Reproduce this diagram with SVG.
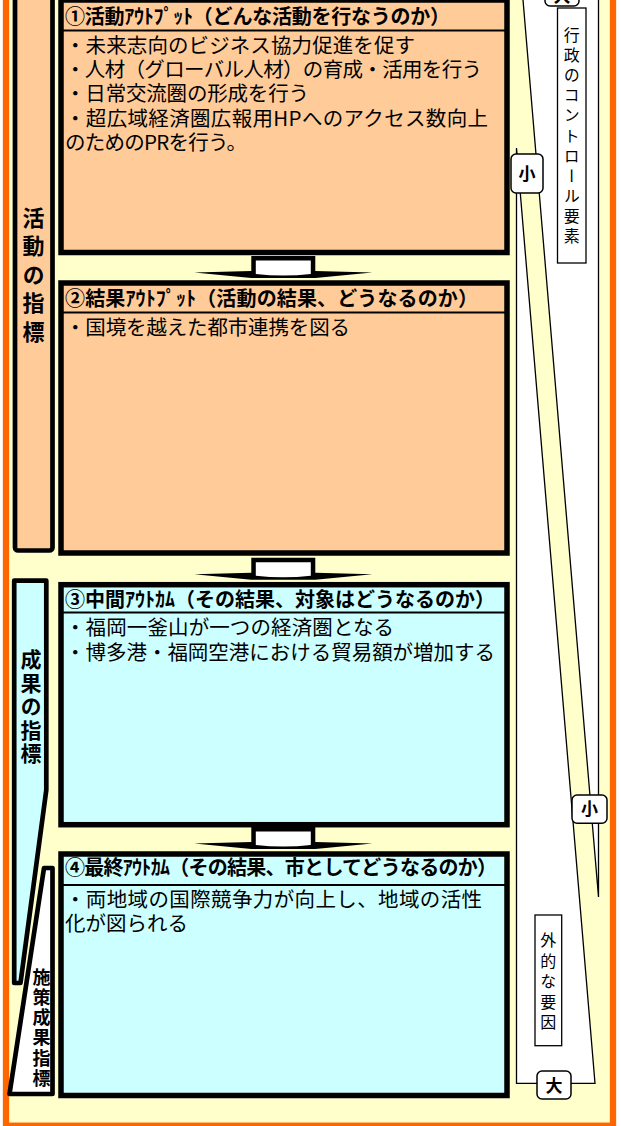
<svg xmlns="http://www.w3.org/2000/svg" width="621" height="1126" viewBox="0 0 621 1126">
<style>
.title{font-family:"Noto Sans CJK JP",sans-serif;font-weight:bold;font-size:20px;fill:#000}
.body{font-family:"Noto Sans CJK JP",sans-serif;font-size:20.5px;fill:#000}
.vbold{font-family:"Noto Sans CJK JP",sans-serif;font-weight:bold;writing-mode:vertical-rl;fill:#000}
.vthin{font-family:"Noto Sans CJK JP",sans-serif;writing-mode:vertical-rl;font-size:16px;fill:#000}
.box{stroke:#000;stroke-width:5.5}
.peach{fill:#FFCC99}
.cyan{fill:#CCFFFF}
.sep{stroke:#000;stroke-width:2}
.thin{fill:#fff;stroke:#000;stroke-width:1.3}
.tag{fill:#fff;stroke:#000;stroke-width:1.5}
.tagtext{font-family:"Noto Sans CJK JP",sans-serif;font-weight:bold;font-size:17px;text-anchor:middle;fill:#000}
.lbl{stroke:#000;stroke-width:4.7;stroke-linejoin:round}
</style>
<defs>
<g id="arrow">
<path d="M-89,-10.5 L-32,-12 L-32,-27 L32,-27 L32,-12 L89,-10.5 L32,-5 L-32,-5 Z" fill="#000"/>
<path d="M-27.5,-22.5 L27.5,-22.5 L27.5,-9 Q0,-6 -27.5,-9 Z" fill="#fff"/>
</g>
</defs>
<rect x="0" y="0" width="621" height="1126" fill="#fff"/>
<rect id="frame" x="6" y="-20" width="607" height="1145.7" fill="#FFFFCC" stroke="#FF6600" stroke-width="6.3"/>

<g id="node-control">
<path d="M522,-12 L598.5,-12 L598.5,897 Z" class="thin"/>
<rect x="557.5" y="8" width="28.5" height="255" class="thin"/>
<text class="vthin" x="571.7" y="27" letter-spacing="4.1">行政のコントロール要素</text>
</g>
<g id="node-external">
<path d="M516.5,148 L595,1083.3 L516.5,1083.3 Z" class="thin"/>
<rect x="535" y="915" width="26.7" height="130.7" class="thin"/>
<text class="vthin" x="548.3" y="932" letter-spacing="4.6">外的な要因</text>
</g>
<g id="node-tag-top-large">
<rect x="545" y="-25" width="34" height="31" rx="5" class="tag"/>
<text class="tagtext" x="562" y="2">大</text>
</g>
<g id="node-tag-top-small">
<rect x="511" y="154" width="32" height="39" rx="5" class="tag"/>
<text class="tagtext" x="527" y="180">小</text>
</g>
<g id="node-tag-bottom-small">
<rect x="572" y="795" width="35" height="28.3" rx="5" class="tag"/>
<text class="tagtext" x="589.5" y="814.5">小</text>
</g>
<g id="node-tag-bottom-large">
<rect x="537" y="1071" width="34" height="28" rx="5" class="tag"/>
<text class="tagtext" x="554" y="1092" font-size="18">大</text>
</g>

<g id="node-activity-indicator">
<rect x="15" y="-10" width="37.5" height="560.5" rx="3" class="peach lbl"/>
<text class="vbold" x="33.5" y="206.5" font-size="22" letter-spacing="6.5">活動の指標</text>
</g>
<g id="node-outcome-indicator">
<path d="M14.2,580.7 L46.3,580.7 L46.3,790 L20.5,983 L14.2,983 Z" class="cyan lbl"/>
<text class="vbold" x="31" y="649" font-size="21" letter-spacing="2.4">成果の指標</text>
</g>
<g id="node-policy-indicator">
<path d="M44,868 L52.5,868 L52.5,1094 L9.5,1094 Z" fill="#fff" class="lbl"/>
<text class="vbold" x="41.5" y="968" font-size="18" letter-spacing="2.2">施策成果指標</text>
</g>

<g id="node-1">
<rect x="61" y="0" width="446" height="252.5" class="peach box"/>
<line x1="61" y1="30.5" x2="507" y2="30.5" class="sep"/>
<text class="title" x="65" y="23.8" textLength="385" lengthAdjust="spacing">①活動ｱｳﾄﾌﾟｯﾄ（どんな活動を行なうのか）</text>
<text class="body" x="65" y="52.6" textLength="350" lengthAdjust="spacing">・未来志向のビジネス協力促進を促す</text>
<text class="body" x="65" y="76.9" textLength="417" lengthAdjust="spacing">・人材（グローバル人材）の育成・活用を行う</text>
<text class="body" x="65" y="101.2" textLength="244" lengthAdjust="spacing">・日常交流圏の形成を行う</text>
<text class="body" x="65" y="125.5" textLength="423" lengthAdjust="spacing">・超広域経済圏広報用HPへのアクセス数向上</text>
<text class="body" x="65" y="149.8" textLength="182" lengthAdjust="spacing">のためのPRを行う。</text>
</g>
<g id="node-2">
<rect x="61" y="283" width="446" height="270" class="peach box"/>
<line x1="61" y1="312.5" x2="507" y2="312.5" class="sep"/>
<text class="title" x="65" y="305.5" textLength="413" lengthAdjust="spacing">②結果ｱｳﾄﾌﾟｯﾄ（活動の結果、どうなるのか）</text>
<text class="body" x="65" y="334.6" textLength="285" lengthAdjust="spacing">・国境を越えた都市連携を図る</text>
</g>
<g id="node-3">
<rect x="61" y="584.7" width="446" height="240" class="cyan box"/>
<line x1="61" y1="612.5" x2="507" y2="612.5" class="sep"/>
<text class="title" x="65" y="606.8" textLength="430" lengthAdjust="spacing">③中間ｱｳﾄｶﾑ（その結果、対象はどうなるのか）</text>
<text class="body" x="65" y="635" textLength="329" lengthAdjust="spacing">・福岡一釜山が一つの経済圏となる</text>
<text class="body" x="65" y="660" textLength="430" lengthAdjust="spacing">・博多港・福岡空港における貿易額が増加する</text>
</g>
<g id="node-4">
<rect x="61" y="854" width="446" height="241.5" class="cyan box"/>
<line x1="61" y1="885" x2="507" y2="885" class="sep"/>
<text class="title" x="65" y="875" textLength="432" lengthAdjust="spacing">④最終ｱｳﾄｶﾑ（その結果、市としてどうなるのか）</text>
<text class="body" x="65" y="906.6" textLength="417" lengthAdjust="spacing">・両地域の国際競争力が向上し、地域の活性</text>
<text class="body" x="65" y="931" textLength="123" lengthAdjust="spacing">化が図られる</text>
</g>

<g id="connectors">
<use href="#arrow" transform="translate(283.3,283)"/>
<use href="#arrow" transform="translate(283.3,584.7)"/>
<use href="#arrow" transform="translate(283.3,854)"/>
</g>
</svg>
